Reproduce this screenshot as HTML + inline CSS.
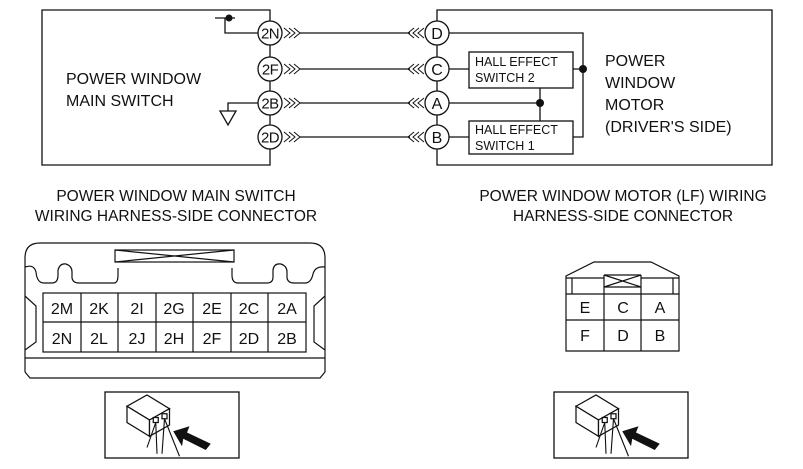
<!DOCTYPE html>
<html><head><meta charset="utf-8"><style>
html,body{margin:0;padding:0;background:#fff}
svg{display:block}
text{font-family:"Liberation Sans",sans-serif;fill:#111}
</style></head><body>
<svg width="803" height="469" viewBox="0 0 803 469" xmlns="http://www.w3.org/2000/svg">
<defs>
<g id="icon">
<rect x="0" y="0" width="134" height="66" fill="#fff" stroke="#111" stroke-width="1.3"/>
<g transform="translate(-13,-7) scale(1.25)">
<g fill="#fff" stroke="#111" stroke-width="1">
<path d="M28 17 L44 8 L62 19 L46 28 Z"/>
<path d="M28 17 L28 30 L46 41 L46 28 Z"/>
<path d="M46 28 L62 19 L62 32 L46 41 Z"/>
<rect x="49" y="26" width="4" height="4"/><rect x="56" y="23" width="4" height="4"/>
</g>
<path d="M51 30 L44 50 M51 30 L52 55 M58 27 L56 55 M58 27 L70 57" stroke="#111" stroke-width="0.9" fill="none"/>
<path d="M65 37 L78 33 L76 38 L95 47 L91 52 L73 43 L72 49 Z" fill="#111"/>
</g>
</g>
</defs>
<g stroke="#111" stroke-width="1.3" fill="none">
<path d="M42 10 H270 V165 H42 Z"/>
<path d="M437 10 H772 V165 H437 Z"/>
<line x1="300" y1="33" x2="410" y2="33"/>
<line x1="300" y1="69" x2="410" y2="69"/>
<line x1="300" y1="103" x2="410" y2="103"/>
<line x1="300" y1="137" x2="410" y2="137"/>
<g stroke-width="1">
<path d="M284 28 L290 33 L284 38 M289 28 L295 33 L289 38 M294 28 L300 33 L294 38"/>
<path d="M284 64 L290 69 L284 74 M289 64 L295 69 L289 74 M294 64 L300 69 L294 74"/>
<path d="M284 98 L290 103 L284 108 M289 98 L295 103 L289 108 M294 98 L300 103 L294 108"/>
<path d="M284 132 L290 137 L284 142 M289 132 L295 137 L289 142 M294 132 L300 137 L294 142"/>
<path d="M424 28 L418 33 L424 38 M419 28 L413 33 L419 38 M414 28 L408 33 L414 38"/>
<path d="M424 64 L418 69 L424 74 M419 64 L413 69 L419 74 M414 64 L408 69 L414 74"/>
<path d="M424 98 L418 103 L424 108 M419 98 L413 103 L419 108 M414 98 L408 103 L414 108"/>
<path d="M424 132 L418 137 L424 142 M419 132 L413 137 L419 142 M414 132 L408 137 L414 142"/>
</g>
<path d="M215 18 H235 M225 18 V33 H258"/>
<path d="M258 103 H228 V111"/>
<path d="M220 111 H236 L228 125 Z"/>
<rect x="469" y="52" width="104" height="36" fill="#fff"/>
<rect x="469" y="121" width="104" height="33" fill="#fff"/>
<path d="M449 33 H583 V137 H573"/>
<path d="M449 69 H469 M573 69 H583"/>
<path d="M449 103 H540 M540 88 V121"/>
<path d="M449 137 H469"/>
</g>
<circle cx="229" cy="18" r="3.5" fill="#111"/>
<circle cx="583" cy="69" r="4" fill="#111"/>
<circle cx="540" cy="103" r="4" fill="#111"/>
<g fill="#fff" stroke="#111" stroke-width="1.3">
<circle cx="270" cy="33" r="12"/><circle cx="270" cy="69" r="12"/><circle cx="270" cy="103" r="12"/><circle cx="270" cy="137" r="12"/>
<circle cx="437" cy="33" r="12"/><circle cx="437" cy="69" r="12"/><circle cx="437" cy="103" r="12"/><circle cx="437" cy="137" r="12"/>
</g>
<g font-size="15" text-anchor="middle" letter-spacing="-0.6">
<text x="270" y="38.5">2N</text><text x="270" y="74.5">2F</text><text x="270" y="108.5">2B</text><text x="270" y="142.5">2D</text>
</g>
<g font-size="16" text-anchor="middle">
<text x="437" y="39">D</text><text x="437" y="75">C</text><text x="437" y="109">A</text><text x="437" y="143">B</text>
</g>
<g font-size="12.5">
<text x="475" y="66">HALL EFFECT</text><text x="475" y="82">SWITCH 2</text>
<text x="475" y="134">HALL EFFECT</text><text x="475" y="150">SWITCH 1</text>
</g>
<g font-size="16">
<text x="66" y="84">POWER WINDOW</text><text x="66" y="106">MAIN SWITCH</text>
<text x="605" y="66">POWER</text><text x="605" y="88">WINDOW</text><text x="605" y="110">MOTOR</text><text x="605" y="132">(DRIVER'S SIDE)</text>
</g>
<g font-size="15.5" text-anchor="middle">
<text x="176" y="201">POWER WINDOW MAIN SWITCH</text>
<text x="176" y="221">WIRING HARNESS-SIDE CONNECTOR</text>
<text x="623" y="201">POWER WINDOW MOTOR (LF) WIRING</text>
<text x="623" y="221">HARNESS-SIDE CONNECTOR</text>
</g>
<g stroke="#111" stroke-width="1.2" fill="none">
<path d="M25 372 V258 Q25 243 40 243 H310 Q325 243 325 258 V372"/>
<path d="M25 372 L30 378 H320 L325 372"/>
<path d="M25 267 Q34 264 36 272 Q37 283 44 283 H52 Q58 283 58 275 V270 Q60 263 66 264 Q72 266 72 272 V278 Q73 283 79 283 H114 Q118 283 118 275 V268"/>
<path d="M232 268 V275 Q232 283 238 283 H267 Q273 283 273 277 V270 Q274 263 281 264 Q287 266 287 272 V278 Q288 283 294 283 H305 Q311 283 313 274 Q315 266 325 267"/>
<rect x="115" y="250" width="119" height="12" fill="#fff"/>
<path d="M115 250 L234 262 M115 262 L234 250"/>
<rect x="43" y="293" width="263" height="59"/>
<line x1="43" y1="322" x2="306" y2="322"/>
<path d="M81 293 V352 M118 293 V352 M156 293 V352 M193 293 V352 M231 293 V352 M268 293 V352"/>
<line x1="25" y1="358" x2="325" y2="358"/>
<path d="M25 296 L36 306 V342 L25 350"/>
<path d="M325 296 L314 306 V342 L325 350"/>
</g>
<g font-size="16" text-anchor="middle">
<text x="62" y="314">2M</text><text x="99" y="314">2K</text><text x="137" y="314">2I</text><text x="174" y="314">2G</text><text x="212" y="314">2E</text><text x="249" y="314">2C</text><text x="287" y="314">2A</text>
<text x="62" y="344">2N</text><text x="99" y="344">2L</text><text x="137" y="344">2J</text><text x="174" y="344">2H</text><text x="212" y="344">2F</text><text x="249" y="344">2D</text><text x="287" y="344">2B</text>
</g>
<g stroke="#111" stroke-width="1.2" fill="none">
<path d="M566 351 V276 L594 262 H651 L679 276 V351 Z"/>
<path d="M566 294 H679 M566 320 H679 M604 275 V351 M641 275 V351"/>
<path d="M572 294 V278 M673 294 V278 M566 278 H604 M641 278 H679 M604 275 H641"/>
<path d="M604 275 L641 287 M604 287 L641 275 M604 287 H641"/>
</g>
<g font-size="16" text-anchor="middle">
<text x="585" y="313">E</text><text x="623" y="313">C</text><text x="660" y="313">A</text>
<text x="585" y="341">F</text><text x="623" y="341">D</text><text x="660" y="341">B</text>
</g>
<use href="#icon" x="105" y="392"/>
<use href="#icon" x="554" y="392"/>
</svg>
</body></html>
